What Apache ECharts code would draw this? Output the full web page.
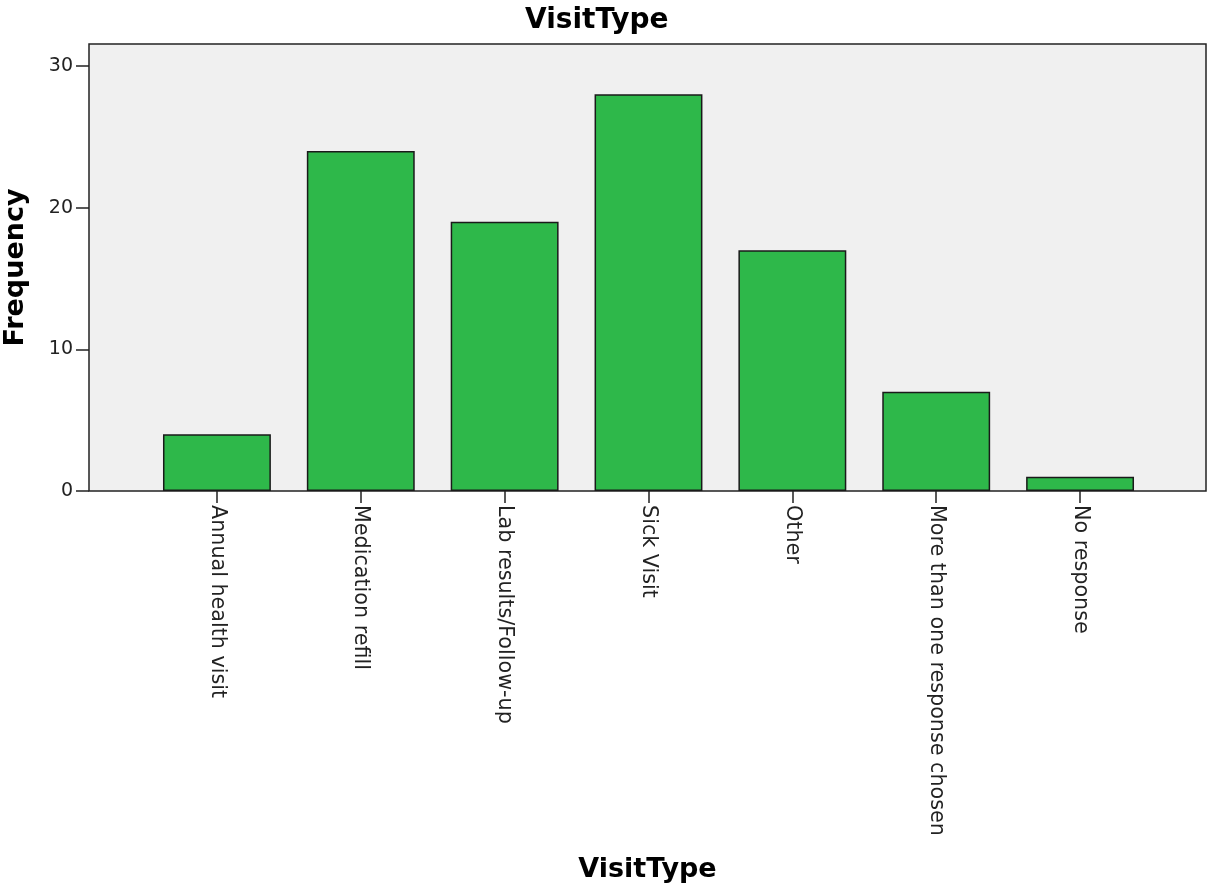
<!DOCTYPE html>
<html>
<head>
<meta charset="utf-8">
<script src="https://cdn.jsdelivr.net/npm/echarts@6/dist/echarts.min.js"></script>
<style>
html,body{margin:0;padding:0;background:#fff;}
#chart{width:1209px;height:887px;}
</style>
</head>
<body>
<div id="chart"></div>
<script>
const categories = ["Annual health visit", "Medication refill", "Lab results/Follow-up", "Sick Visit", "Other", "More than one response chosen", "No response"];
const frequencies = [4, 24, 19, 28, 17, 7, 1];
const yTicks = [0, 10, 20, 30];
const chartTitle = "VisitType";
const xTitle = "VisitType";
const yTitle = "Frequency";

const FONT = "DejaVu Sans";
const yMax = 31.55;
const chart = echarts.init(document.getElementById('chart'), null, {renderer: 'canvas'});
chart.setOption({
  animation: false,
  backgroundColor: '#ffffff',
  title: {
    text: chartTitle, left: 520, top: 2,
    textStyle: {fontFamily: FONT, fontSize: 28, fontWeight: 'bold', color: '#000'}
  },
  grid: [
    {left: 89, right: 3, top: 44, bottom: 396, show: true, backgroundColor: '#f0f0f0', borderColor: '#222', borderWidth: 1.5, containLabel: false, outerBoundsMode: 'none'},
    {left: 145, right: 57, top: 44, bottom: 396, containLabel: false, outerBoundsMode: 'none'}
  ],
  xAxis: [
    {gridIndex: 0, type: 'category', data: [''], show: true,
     axisLine: {show: false}, axisTick: {show: false}, axisLabel: {show: false}, splitLine: {show: false},
     name: xTitle, nameLocation: 'middle', nameGap: 365,
     nameTextStyle: {fontFamily: FONT, fontSize: 27, fontWeight: 'bold', color: '#000'}},
    {gridIndex: 1, type: 'category', data: categories, boundaryGap: true,
     axisLine: {show: false},
     axisTick: {show: true, alignWithLabel: true, interval: 0, length: 12, inside: false, lineStyle: {color: '#222', width: 1.5}},
     axisLabel: {interval: 0, rotate: -90, margin: 14, fontFamily: FONT, fontSize: 20.7, color: '#222'},
     splitLine: {show: false}}
  ],
  yAxis: [
    {gridIndex: 0, type: 'value', min: 0, max: yMax, interval: 10,
     axisLine: {show: false},
     axisTick: {show: true, length: 13, customValues: yTicks, lineStyle: {color: '#222', width: 1.5}},
     axisLabel: {customValues: yTicks, margin: 16, fontFamily: FONT, fontSize: 19, color: '#222'},
     splitLine: {show: false},
     name: yTitle, nameLocation: 'middle', nameGap: 60,
     nameTextStyle: {fontFamily: FONT, fontSize: 27, fontWeight: 'bold', color: '#000'}},
    {gridIndex: 1, type: 'value', min: 0, max: yMax, show: false, splitLine: {show: false}}
  ],
  series: [{
    type: 'bar', xAxisIndex: 1, yAxisIndex: 1,
    data: frequencies, barWidth: '75%',
    itemStyle: {color: '#2eb84a', borderColor: '#1a1a1a', borderWidth: 1.5}
  }]
});
</script>
</body>
</html>
